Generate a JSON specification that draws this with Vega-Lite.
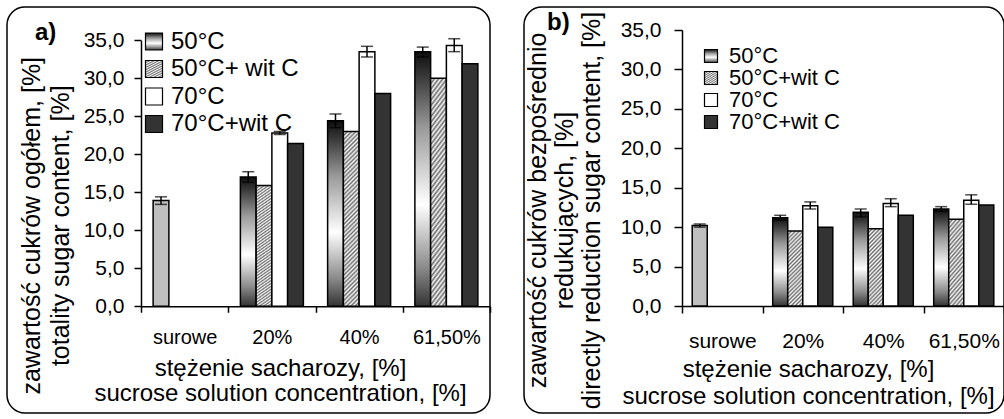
{
  "$schema": "https://vega.github.io/schema/vega-lite/v6.json",
  "padding": {"left": 6, "top": 6, "right": 0, "bottom": 0},
  "spacing": 31,
  "datasets": {
    "a": [
      {"conc": "surowe", "series": "50°C", "value": 13.9, "lo": 13.4, "hi": 14.4},
      {"conc": "20%", "series": "50°C", "value": 17.0, "lo": 16.3, "hi": 17.7},
      {"conc": "20%", "series": "50°C+ wit C", "value": 15.9, "lo": null, "hi": null},
      {"conc": "20%", "series": "70°C", "value": 22.8, "lo": 22.6, "hi": 23.0},
      {"conc": "20%", "series": "70°C+wit C", "value": 21.4, "lo": null, "hi": null},
      {"conc": "40%", "series": "50°C", "value": 24.4, "lo": 23.5, "hi": 25.3},
      {"conc": "40%", "series": "50°C+ wit C", "value": 23.0, "lo": null, "hi": null},
      {"conc": "40%", "series": "70°C", "value": 33.5, "lo": 32.8, "hi": 34.2},
      {"conc": "40%", "series": "70°C+wit C", "value": 28.0, "lo": null, "hi": null},
      {"conc": "61,50%", "series": "50°C", "value": 33.5, "lo": 32.8, "hi": 34.1},
      {"conc": "61,50%", "series": "50°C+ wit C", "value": 30.0, "lo": null, "hi": null},
      {"conc": "61,50%", "series": "70°C", "value": 34.3, "lo": 33.5, "hi": 35.2},
      {"conc": "61,50%", "series": "70°C+wit C", "value": 31.9, "lo": null, "hi": null}
    ],
    "b": [
      {"conc": "surowe", "series": "50°C", "value": 10.2, "lo": 10.0, "hi": 10.4},
      {"conc": "20%", "series": "50°C", "value": 11.2, "lo": 10.9, "hi": 11.5},
      {"conc": "20%", "series": "50°C+wit C", "value": 9.5, "lo": null, "hi": null},
      {"conc": "20%", "series": "70°C", "value": 12.7, "lo": 12.3, "hi": 13.2},
      {"conc": "20%", "series": "70°C+wit C", "value": 10.0, "lo": null, "hi": null},
      {"conc": "40%", "series": "50°C", "value": 11.9, "lo": 11.3, "hi": 12.3},
      {"conc": "40%", "series": "50°C+wit C", "value": 9.8, "lo": null, "hi": null},
      {"conc": "40%", "series": "70°C", "value": 13.0, "lo": 12.6, "hi": 13.6},
      {"conc": "40%", "series": "70°C+wit C", "value": 11.5, "lo": null, "hi": null},
      {"conc": "61,50%", "series": "50°C", "value": 12.3, "lo": 12.0, "hi": 12.6},
      {"conc": "61,50%", "series": "50°C+wit C", "value": 11.0, "lo": null, "hi": null},
      {"conc": "61,50%", "series": "70°C", "value": 13.4, "lo": 12.9, "hi": 14.1},
      {"conc": "61,50%", "series": "70°C+wit C", "value": 12.8, "lo": null, "hi": null}
    ]
  },
  "hconcat": [
    {
      "width": 483,
      "height": 406,
      "data": {"name": "a"},
      "title": {"text": "a)", "anchor": "start", "frame": "group", "orient": "top", "offset": -57.25, "dx": 28, "baseline": "alphabetic", "fontSize": 24, "fontWeight": "bold", "color": "black"},
      "encoding": {
        "x": {"field": "conc", "type": "nominal", "sort": null,
          "scale": {"domain": ["surowe", "20%", "40%", "61,50%"], "range": [134, 483], "paddingInner": 0, "paddingOuter": 0},
          "axis": {"title": ["stężenie sacharozy, [%]", "sucrose solution concentration, [%]"], "offset": -106.75, "tickBand": "extent", "tickSize": 6, "labelAngle": 0, "labelFontSize": 20, "labelBaseline": "alphabetic", "labelPadding": 31, "titleFontSize": 24, "titleLineHeight": 25, "titleX": 273, "titleY": 69, "titleBaseline": "alphabetic", "titleAlign": "center"}},
        "xOffset": {"field": "series", "type": "nominal",
          "scale": {"domain": ["50°C", "50°C+ wit C", "70°C", "70°C+wit C"], "paddingInner": 0, "paddingOuter": 0.77}}
      },
      "layer": [
        {
          "mark": {"type": "bar", "stroke": "black", "strokeWidth": 1.5},
          "encoding": {
            "y": {"field": "value", "type": "quantitative",
              "scale": {"domain": [0, 35], "range": [299.25, 33.25], "nice": false, "zero": true},
              "axis": {"title": ["zawartość cukrów ogółem, [%]", "totality sugar content, [%]"], "values": [0, 5, 10, 15, 20, 25, 30, 35], "format": ".1f", "offset": -134, "tickSize": 7, "labelPadding": 10, "labelFontSize": 21, "titleFontSize": 25, "titleLineHeight": 29, "titleX": -102, "titleY": 218.25, "titleAngle": -90, "titleBaseline": "alphabetic", "titleAlign": "center"}},
            "fill": {"field": "series", "type": "nominal",
              "condition": [
                {"test": "datum.conc === 'surowe'", "value": "#bfbfbf"},
                {"test": "datum.series === '50°C'", "value": {"gradient": "linear", "x1": 0, "y1": 0, "x2": 0, "y2": 1, "stops": [
                    {"offset": 0, "color": "#0d0d0d"}, {"offset": 0.1, "color": "#3a3a3a"}, {"offset": 0.3, "color": "#9a9a9a"}, {"offset": 0.6, "color": "#ffffff"}, {"offset": 0.85, "color": "#8a8a8a"}, {"offset": 1, "color": "#333333"}]}},
                {"test": "datum.series === '50°C+ wit C'", "value": {"gradient": "linear", "x1": 0, "y1": 0, "x2": 0.0984, "y2": 1.082, "stops": [
                    {"offset": 0, "color": "#6e6e6e"}, {"offset": 0.0111, "color": "#f8f8f8"}, {"offset": 0.0222, "color": "#6e6e6e"}, {"offset": 0.0333, "color": "#f8f8f8"}, {"offset": 0.0444, "color": "#6e6e6e"}, {"offset": 0.0556, "color": "#f8f8f8"}, {"offset": 0.0667, "color": "#6e6e6e"}, {"offset": 0.0778, "color": "#f8f8f8"}, {"offset": 0.0889, "color": "#6e6e6e"}, {"offset": 0.1, "color": "#f8f8f8"},
                    {"offset": 0.1111, "color": "#6e6e6e"}, {"offset": 0.1222, "color": "#f8f8f8"}, {"offset": 0.1333, "color": "#6e6e6e"}, {"offset": 0.1444, "color": "#f8f8f8"}, {"offset": 0.1556, "color": "#6e6e6e"}, {"offset": 0.1667, "color": "#f8f8f8"}, {"offset": 0.1778, "color": "#6e6e6e"}, {"offset": 0.1889, "color": "#f8f8f8"}, {"offset": 0.2, "color": "#6e6e6e"}, {"offset": 0.2111, "color": "#f8f8f8"},
                    {"offset": 0.2222, "color": "#6e6e6e"}, {"offset": 0.2333, "color": "#f8f8f8"}, {"offset": 0.2444, "color": "#6e6e6e"}, {"offset": 0.2556, "color": "#f8f8f8"}, {"offset": 0.2667, "color": "#6e6e6e"}, {"offset": 0.2778, "color": "#f8f8f8"}, {"offset": 0.2889, "color": "#6e6e6e"}, {"offset": 0.3, "color": "#f8f8f8"}, {"offset": 0.3111, "color": "#6e6e6e"}, {"offset": 0.3222, "color": "#f8f8f8"},
                    {"offset": 0.3333, "color": "#6e6e6e"}, {"offset": 0.3444, "color": "#f8f8f8"}, {"offset": 0.3556, "color": "#6e6e6e"}, {"offset": 0.3667, "color": "#f8f8f8"}, {"offset": 0.3778, "color": "#6e6e6e"}, {"offset": 0.3889, "color": "#f8f8f8"}, {"offset": 0.4, "color": "#6e6e6e"}, {"offset": 0.4111, "color": "#f8f8f8"}, {"offset": 0.4222, "color": "#6e6e6e"}, {"offset": 0.4333, "color": "#f8f8f8"},
                    {"offset": 0.4444, "color": "#6e6e6e"}, {"offset": 0.4556, "color": "#f8f8f8"}, {"offset": 0.4667, "color": "#6e6e6e"}, {"offset": 0.4778, "color": "#f8f8f8"}, {"offset": 0.4889, "color": "#6e6e6e"}, {"offset": 0.5, "color": "#f8f8f8"}, {"offset": 0.5111, "color": "#6e6e6e"}, {"offset": 0.5222, "color": "#f8f8f8"}, {"offset": 0.5333, "color": "#6e6e6e"}, {"offset": 0.5444, "color": "#f8f8f8"},
                    {"offset": 0.5556, "color": "#6e6e6e"}, {"offset": 0.5667, "color": "#f8f8f8"}, {"offset": 0.5778, "color": "#6e6e6e"}, {"offset": 0.5889, "color": "#f8f8f8"}, {"offset": 0.6, "color": "#6e6e6e"}, {"offset": 0.6111, "color": "#f8f8f8"}, {"offset": 0.6222, "color": "#6e6e6e"}, {"offset": 0.6333, "color": "#f8f8f8"}, {"offset": 0.6444, "color": "#6e6e6e"}, {"offset": 0.6556, "color": "#f8f8f8"},
                    {"offset": 0.6667, "color": "#6e6e6e"}, {"offset": 0.6778, "color": "#f8f8f8"}, {"offset": 0.6889, "color": "#6e6e6e"}, {"offset": 0.7, "color": "#f8f8f8"}, {"offset": 0.7111, "color": "#6e6e6e"}, {"offset": 0.7222, "color": "#f8f8f8"}, {"offset": 0.7333, "color": "#6e6e6e"}, {"offset": 0.7444, "color": "#f8f8f8"}, {"offset": 0.7556, "color": "#6e6e6e"}, {"offset": 0.7667, "color": "#f8f8f8"},
                    {"offset": 0.7778, "color": "#6e6e6e"}, {"offset": 0.7889, "color": "#f8f8f8"}, {"offset": 0.8, "color": "#6e6e6e"}, {"offset": 0.8111, "color": "#f8f8f8"}, {"offset": 0.8222, "color": "#6e6e6e"}, {"offset": 0.8333, "color": "#f8f8f8"}, {"offset": 0.8444, "color": "#6e6e6e"}, {"offset": 0.8556, "color": "#f8f8f8"}, {"offset": 0.8667, "color": "#6e6e6e"}, {"offset": 0.8778, "color": "#f8f8f8"},
                    {"offset": 0.8889, "color": "#6e6e6e"}, {"offset": 0.9, "color": "#f8f8f8"}, {"offset": 0.9111, "color": "#6e6e6e"}, {"offset": 0.9222, "color": "#f8f8f8"}, {"offset": 0.9333, "color": "#6e6e6e"}, {"offset": 0.9444, "color": "#f8f8f8"}, {"offset": 0.9556, "color": "#6e6e6e"}, {"offset": 0.9667, "color": "#f8f8f8"}, {"offset": 0.9778, "color": "#6e6e6e"}, {"offset": 0.9889, "color": "#f8f8f8"},
                    {"offset": 1, "color": "#6e6e6e"}]}},
                {"test": "datum.series === '70°C'", "value": "#ffffff"}
              ],
              "scale": {"domain": ["50°C", "50°C+ wit C", "70°C", "70°C+wit C"], "range": ["url(#gradient_0)", "url(#gradient_1)", "#ffffff", "#333333"]},
              "legend": {"orient": "none", "legendX": 135, "legendY": 22.5, "title": null, "symbolType": "square", "symbolSize": 289, "symbolStrokeColor": "black", "symbolStrokeWidth": 1.2, "labelFontSize": 24, "labelColor": "black", "rowPadding": 3.5, "labelOffset": 5, "padding": 0,
                "encoding": {"symbols": {"stroke": {"value": "black"}, "strokeWidth": {"value": 1.2}}}}}
          }
        },
        {
          "transform": [{"filter": "isValid(datum.lo)"}],
          "mark": {"type": "rule", "stroke": "black", "strokeWidth": 1.5},
          "encoding": {"y": {"field": "lo", "type": "quantitative"}, "y2": {"field": "hi"}}
        },
        {
          "transform": [{"filter": "isValid(datum.lo)"}],
          "mark": {"type": "tick", "color": "black", "thickness": 1.5, "size": 12},
          "encoding": {"y": {"field": "lo", "type": "quantitative"}}
        },
        {
          "transform": [{"filter": "isValid(datum.hi)"}],
          "mark": {"type": "tick", "color": "black", "thickness": 1.5, "size": 12},
          "encoding": {"y": {"field": "hi", "type": "quantitative"}}
        }
      ]
    },
    {
      "width": 480,
      "height": 406,
      "data": {"name": "b"},
      "title": {"text": "b)", "anchor": "start", "frame": "group", "orient": "top", "offset": -47, "dx": 23, "baseline": "alphabetic", "fontSize": 24, "fontWeight": "bold", "color": "black"},
      "encoding": {
        "x": {"field": "conc", "type": "nominal", "sort": null,
          "scale": {"domain": ["surowe", "20%", "40%", "61,50%"], "range": [158, 480], "paddingInner": 0, "paddingOuter": 0},
          "axis": {"title": ["stężenie sacharozy, [%]", "sucrose solution concentration, [%]"], "offset": -107, "tickBand": "extent", "tickSize": 7, "labelAngle": 0, "labelFontSize": 21, "labelBaseline": "alphabetic", "labelPadding": 34, "titleFontSize": 24, "titleLineHeight": 27, "titleX": 284, "titleY": 70, "titleBaseline": "alphabetic", "titleAlign": "center"}},
        "xOffset": {"field": "series", "type": "nominal",
          "scale": {"domain": ["50°C", "50°C+wit C", "70°C", "70°C+wit C"], "paddingInner": 0, "paddingOuter": 0.68}}
      },
      "layer": [
        {
          "mark": {"type": "bar", "stroke": "black", "strokeWidth": 1.5},
          "encoding": {
            "y": {"field": "value", "type": "quantitative",
              "scale": {"domain": [0, 35], "range": [299, 23], "nice": false, "zero": true},
              "axis": {"title": ["zawartość cukrów bezpośrednio", "redukujących, [%]", "directly reduction sugar content, [%]"], "values": [0, 5, 10, 15, 20, 25, 30, 35], "format": ".1f", "offset": -158, "tickSize": 8, "labelPadding": 13, "labelFontSize": 21, "titleFontSize": 25, "titleLineHeight": 27, "titleX": -137, "titleY": 203, "titleAngle": -90, "titleBaseline": "alphabetic", "titleAlign": "center"}},
            "fill": {"field": "series", "type": "nominal",
              "condition": [
                {"test": "datum.conc === 'surowe'", "value": "#bfbfbf"},
                {"test": "datum.series === '50°C'", "value": {"gradient": "linear", "x1": 0, "y1": 0, "x2": 0, "y2": 1, "stops": [
                    {"offset": 0, "color": "#0d0d0d"}, {"offset": 0.1, "color": "#3a3a3a"}, {"offset": 0.3, "color": "#9a9a9a"}, {"offset": 0.6, "color": "#ffffff"}, {"offset": 0.85, "color": "#8a8a8a"}, {"offset": 1, "color": "#333333"}]}},
                {"test": "datum.series === '50°C+wit C'", "value": {"gradient": "linear", "x1": 0, "y1": 0, "x2": 0.2308, "y2": 1.1538, "stops": [
                    {"offset": 0, "color": "#6e6e6e"}, {"offset": 0.0217, "color": "#f8f8f8"}, {"offset": 0.0435, "color": "#6e6e6e"}, {"offset": 0.0652, "color": "#f8f8f8"}, {"offset": 0.087, "color": "#6e6e6e"}, {"offset": 0.1087, "color": "#f8f8f8"}, {"offset": 0.1304, "color": "#6e6e6e"}, {"offset": 0.1522, "color": "#f8f8f8"}, {"offset": 0.1739, "color": "#6e6e6e"}, {"offset": 0.1957, "color": "#f8f8f8"},
                    {"offset": 0.2174, "color": "#6e6e6e"}, {"offset": 0.2391, "color": "#f8f8f8"}, {"offset": 0.2609, "color": "#6e6e6e"}, {"offset": 0.2826, "color": "#f8f8f8"}, {"offset": 0.3043, "color": "#6e6e6e"}, {"offset": 0.3261, "color": "#f8f8f8"}, {"offset": 0.3478, "color": "#6e6e6e"}, {"offset": 0.3696, "color": "#f8f8f8"}, {"offset": 0.3913, "color": "#6e6e6e"}, {"offset": 0.413, "color": "#f8f8f8"},
                    {"offset": 0.4348, "color": "#6e6e6e"}, {"offset": 0.4565, "color": "#f8f8f8"}, {"offset": 0.4783, "color": "#6e6e6e"}, {"offset": 0.5, "color": "#f8f8f8"}, {"offset": 0.5217, "color": "#6e6e6e"}, {"offset": 0.5435, "color": "#f8f8f8"}, {"offset": 0.5652, "color": "#6e6e6e"}, {"offset": 0.587, "color": "#f8f8f8"}, {"offset": 0.6087, "color": "#6e6e6e"}, {"offset": 0.6304, "color": "#f8f8f8"},
                    {"offset": 0.6522, "color": "#6e6e6e"}, {"offset": 0.6739, "color": "#f8f8f8"}, {"offset": 0.6957, "color": "#6e6e6e"}, {"offset": 0.7174, "color": "#f8f8f8"}, {"offset": 0.7391, "color": "#6e6e6e"}, {"offset": 0.7609, "color": "#f8f8f8"}, {"offset": 0.7826, "color": "#6e6e6e"}, {"offset": 0.8043, "color": "#f8f8f8"}, {"offset": 0.8261, "color": "#6e6e6e"}, {"offset": 0.8478, "color": "#f8f8f8"},
                    {"offset": 0.8696, "color": "#6e6e6e"}, {"offset": 0.8913, "color": "#f8f8f8"}, {"offset": 0.913, "color": "#6e6e6e"}, {"offset": 0.9348, "color": "#f8f8f8"}, {"offset": 0.9565, "color": "#6e6e6e"}, {"offset": 0.9783, "color": "#f8f8f8"}, {"offset": 1, "color": "#6e6e6e"}]}},
                {"test": "datum.series === '70°C'", "value": "#ffffff"}
              ],
              "scale": {"domain": ["50°C", "50°C+wit C", "70°C", "70°C+wit C"], "range": ["url(#gradient_6)", "url(#gradient_7)", "#ffffff", "#333333"]},
              "legend": {"orient": "none", "legendX": 176, "legendY": 38, "title": null, "symbolType": "square", "symbolSize": 169, "symbolStrokeColor": "black", "symbolStrokeWidth": 1.2, "labelFontSize": 22, "labelColor": "black", "rowPadding": 0, "labelOffset": 7, "padding": 0,
                "encoding": {"symbols": {"stroke": {"value": "black"}, "strokeWidth": {"value": 1.2}}}}}
          }
        },
        {
          "transform": [{"filter": "isValid(datum.lo)"}],
          "mark": {"type": "rule", "stroke": "black", "strokeWidth": 1.5},
          "encoding": {"y": {"field": "lo", "type": "quantitative"}, "y2": {"field": "hi"}}
        },
        {
          "transform": [{"filter": "isValid(datum.lo)"}],
          "mark": {"type": "tick", "color": "black", "thickness": 1.5, "size": 12},
          "encoding": {"y": {"field": "lo", "type": "quantitative"}}
        },
        {
          "transform": [{"filter": "isValid(datum.hi)"}],
          "mark": {"type": "tick", "color": "black", "thickness": 1.5, "size": 12},
          "encoding": {"y": {"field": "hi", "type": "quantitative"}}
        }
      ]
    }
  ],
  "resolve": {
    "scale": {"x": "independent", "y": "independent", "xOffset": "independent", "fill": "independent"},
    "legend": {"fill": "independent"}
  },
  "config": {
    "font": "Liberation Sans",
    "locale": {"number": {"decimal": ",", "thousands": ".", "grouping": [3], "currency": ["", " zł"]}},
    "view": {"stroke": "black", "strokeWidth": 1.5, "cornerRadius": 18},
    "axis": {"domainColor": "black", "tickColor": "black", "labelColor": "black", "titleColor": "black", "domainWidth": 1.5, "tickWidth": 1.5, "grid": false, "titleFontWeight": "normal", "labelFont": "Liberation Sans", "titleFont": "Liberation Sans"},
    "legend": {"labelFont": "Liberation Sans", "symbolOpacity": 1},
    "title": {"font": "Liberation Sans"}
  }
}
